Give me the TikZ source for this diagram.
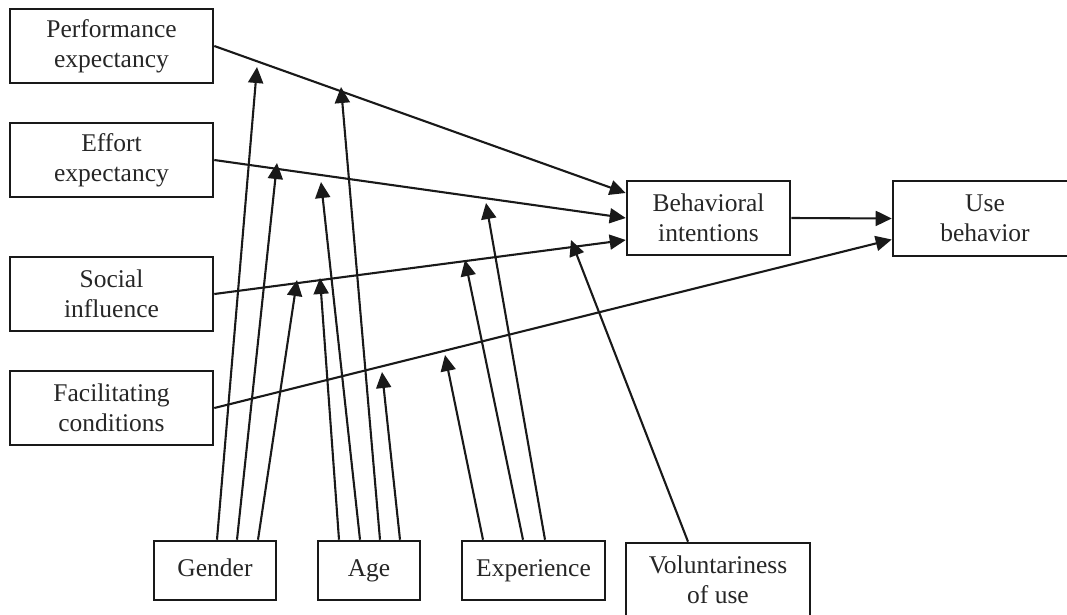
\documentclass[tikz,border=0pt]{standalone}
\usepackage{fontspec}
\setmainfont{Liberation Serif}
\usetikzlibrary{arrows.meta}
\tikzset{
  box/.style={draw=black!90, line width=2.6pt, rectangle, inner sep=0pt, align=center,
    text=black!85, font=\fontsize{25.5}{30}\selectfont},
  lbox/.style={box, minimum width=203pt, minimum height=74pt},
  bbox/.style={box, minimum height=59pt, text height=18pt, text depth=6pt},
  arr/.style={line width=2.1pt, draw=black!90, -{Triangle[length=16pt,width=15pt]}},
}
\begin{document}
\begin{tikzpicture}[x=1pt,y=-1pt]
\useasboundingbox (0,0) rectangle (1067,614);
\begin{scope}
\clip (0,0) rectangle (1067,614);
% left boxes
\node[lbox] (pe) at (111.5,46) {Performance\\expectancy};
\node[lbox] (ee) at (111.5,160) {Effort\\expectancy};
\node[lbox] (si) at (111.5,294) {Social\\influence};
\node[lbox] (fc) at (111.5,408) {Facilitating\\conditions};
% outcome boxes
\node[box, minimum width=163pt, minimum height=74pt] (bi) at (708.5,218) {Behavioral\\intentions};
\node[box, minimum width=184pt, minimum height=75pt] (ub) at (985,218.5) {Use\\behavior};
% moderators
\node[bbox, minimum width=122pt] (gen) at (215,570.5) {Gender};
\node[bbox, minimum width=102pt] (age) at (369,570.5) {Age};
\node[bbox, minimum width=143pt] (exp) at (533.5,570.5) {Experience};
\node[box, minimum width=184pt, minimum height=74pt] (vol) at (718,580) {Voluntariness\\of use};

% main paths
\draw[arr] (pe.east) -- ([yshift=25pt]bi.west);
\draw[arr] (ee.east) -- (bi.west);
\draw[arr] (si.east) -- ([yshift=-22pt]bi.west);
\draw[arr] (fc.east) -- ([yshift=-21pt]ub.west);
\draw[arr] (bi.east) -- (ub.west);

% tips of moderating arrows
\coordinate (g1) at (257,67);
\coordinate (g2) at (277,163);
\coordinate (g3) at (297,280);
\coordinate (a1) at (320,278);
\coordinate (a2) at (321,182);
\coordinate (a3) at (341,87);
\coordinate (a4) at (382,372);
\coordinate (e1) at (445,355);
\coordinate (e2) at (465,260);
\coordinate (e3) at (486,203);
\coordinate (v1) at (571,240);

% gender
\draw[arr] ([xshift=2pt]gen.north) -- (g1);
\draw[arr] ([xshift=22pt]gen.north) -- (g2);
\draw[arr] ([xshift=43pt]gen.north) -- (g3);
% age
\draw[arr] ([xshift=-30pt]age.north) -- (a1);
\draw[arr] ([xshift=-9pt]age.north) -- (a2);
\draw[arr] ([xshift=11pt]age.north) -- (a3);
\draw[arr] ([xshift=31pt]age.north) -- (a4);
% experience
\draw[arr] ([xshift=-50.5pt]exp.north) -- (e1);
\draw[arr] ([xshift=-10.5pt]exp.north) -- (e2);
\draw[arr] ([xshift=11.5pt]exp.north) -- (e3);
% voluntariness
\draw[arr] ([xshift=-30pt]vol.north) -- (v1);
\end{scope}
\end{tikzpicture}
\end{document}
